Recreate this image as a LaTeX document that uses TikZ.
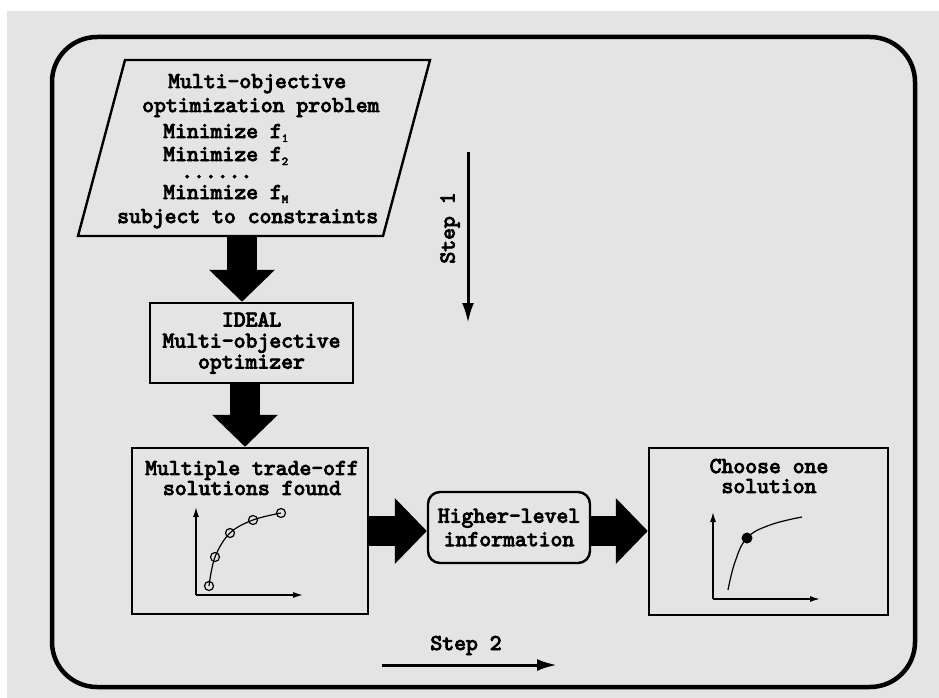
\documentclass[tikz,border=0pt]{standalone}
\usepackage{fontspec}
\newfontfamily\heavytt{lmmono10-regular}[Extension=.otf, FakeBold=4]
\usetikzlibrary{arrows.meta,calc}
\definecolor{paper}{HTML}{E4E4E4}
\newcommand\lowidx[1]{\raisebox{-4pt}{\fontsize{12}{12}\selectfont #1}}
\tikzset{
  tt/.style={font=\heavytt\fontsize{22.6}{21}\selectfont, inner sep=0pt},
  box/.style={draw, line width=2.4pt, inner sep=0pt},
  blk/.style={line width=30pt, -{Triangle[width=64pt,length=32pt]}},
  axis/.style={line width=1.4pt, -{Latex[length=10pt,width=6pt]}},
  steparrow/.style={line width=3pt, -{Latex[length=20pt,width=12pt]}},
  pt/.style={line width=1.2pt},
}
\begin{document}
\begin{tikzpicture}[x=1pt,y=-1pt]
\useasboundingbox (0,0) rectangle (939,698);
\fill[white] (0,0) rectangle (939,698);
\fill[paper] (7,11) rectangle (939,698);

% outer frame
\draw[line width=4.5pt, rounded corners=45pt] (52,37) rectangle (915,687);

% problem statement (parallelogram)
\coordinate (ptl) at (125,60);
\coordinate (ptr) at (430,60);
\coordinate (pbr) at (383,236);
\coordinate (pbl) at (78,236);
\coordinate (pout) at (242,236);
\draw[line width=2.4pt, line join=miter] (ptl) -- (ptr) -- (pbr) -- (pbl) -- cycle;
\node[tt, anchor=base west] (p1) at (168,88) {Multi-objective};
\node[tt, anchor=base west] (p2) at (142,112) {optimization problem};
\node[tt, anchor=base west] (p3) at (163,138) {Minimize f\lowidx{1}};
\node[tt, anchor=base west] (p4) at (163,161) {Minimize f\lowidx{2}};
\node[tt, anchor=base west, text height=4pt] (p5) at (181,178) {......};
\node[tt, anchor=base west] (p6) at (163,199) {Minimize f\lowidx{M}};
\node[tt, anchor=base west] (p7) at (117,223) {subject to constraints};

% ideal optimizer
\node[box, tt, align=center, minimum width=203pt, minimum height=80pt]
      (ideal) at (251.5,343) {IDEAL\\Multi-objective\\optimizer};

% trade-off solutions
\node[box, minimum width=236pt, minimum height=166pt] (multi) at (250,531) {};
\node[tt, align=center, font=\heavytt\fontsize{22.6}{20}\selectfont]
      (mtxt) at (252,478) {Multiple trade-off\\solutions found};
\draw[axis] (196,595) -- (196,507);
\draw[axis] (196,595) -- (303,595);
\draw[pt] plot[smooth, tension=0.6] coordinates {(209,586) (215,557) (230,533) (253,520) (281,513)};
\foreach \p in {(209,586),(215,557),(230,533),(253,520),(281,513)}
  \draw[pt] \p circle[radius=4.5pt];

% higher-level information
\node[box, tt, rounded corners=12pt, align=center, minimum width=162pt, minimum height=71pt,
      font=\heavytt\fontsize{22.6}{23.5}\selectfont]
      (higher) at (509,527.5) {Higher-level\\information};

% chosen solution
\node[box, minimum width=239pt, minimum height=167pt] (choose) at (768.5,531.5) {};
\node[tt, align=center, font=\heavytt\fontsize{22.6}{20}\selectfont]
      (ctxt) at (769,476) {Choose one\\solution};
\draw[axis] (713,599) -- (713,512);
\draw[axis] (713,599) -- (820,599);
\draw[pt] plot[smooth, tension=0.7] coordinates {(728,590) (735,562) (747,538) (770,525) (802,517)};
\fill (747,538) circle[radius=5.5pt];

% block arrows
\draw[blk] (pout) -- (pout |- ideal.north);
\draw[blk] ([xshift=-6.5pt]ideal.south) -- ([xshift=-5pt]multi.north);
\draw[blk] (multi.east) -- (multi.east -| higher.west);
\draw[blk] (multi.east -| higher.east) -- (multi.east -| choose.west);

% step markers
\coordinate (s1a) at (468,152);
\coordinate (s1b) at (468,323);
\draw[steparrow] (s1a) -- (s1b);
\node[tt, rotate=90] (step1) at (450,228) {Step 1};
\node[tt, anchor=base] (step2) at (466,650) {Step 2};
\coordinate (s2a) at (382,665);
\coordinate (s2b) at (557,665);
\draw[steparrow] (s2a) -- (s2b);
\end{tikzpicture}
\end{document}
